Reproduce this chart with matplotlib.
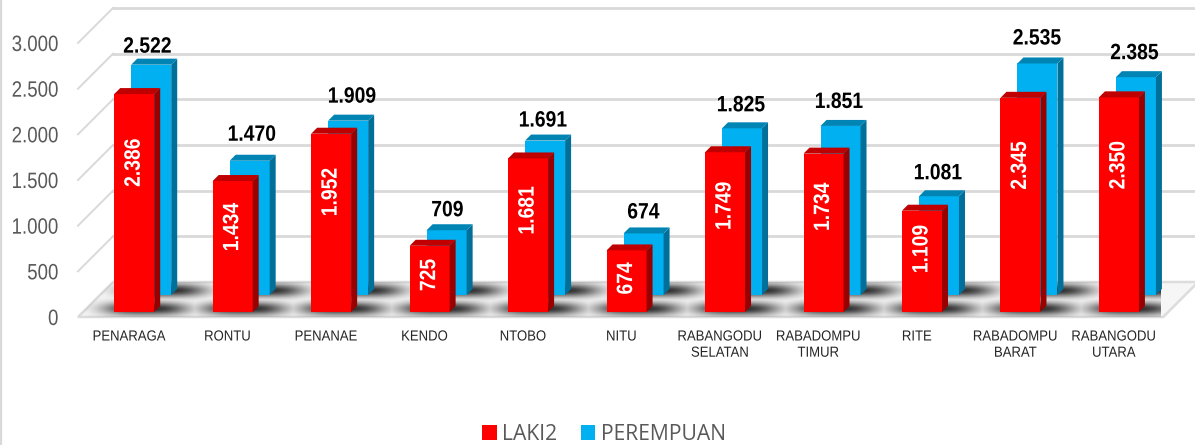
import numpy as np
import matplotlib
matplotlib.use("Agg")
import matplotlib.pyplot as plt
import matplotlib.patheffects as pe
from matplotlib.patches import Polygon, Rectangle, Patch
from matplotlib.lines import Line2D
from matplotlib.transforms import Affine2D

plt.rcParams['font.family'] = ['Liberation Sans']

categories = ['PENARAGA', 'RONTU', 'PENANAE', 'KENDO', 'NTOBO', 'NITU',
              'RABANGODU\nSELATAN', 'RABADOMPU\nTIMUR', 'RITE',
              'RABADOMPU\nBARAT', 'RABANGODU\nUTARA']
laki2 = [2386, 1434, 1952, 725, 1681, 674, 1749, 1734, 1109, 2345, 2350]
perempuan = [2522, 1470, 1909, 709, 1691, 674, 1825, 1851, 1081, 2535, 2385]
y_ticks = [0, 500, 1000, 1500, 2000, 2500, 3000]

# small hand nudges for the labels over the blue bars, in pixels
label_gap = [17.5, 25.5, 23.5, 19.5, 19.5, 20.5, 22.5, 23.5, 22.5, 24.5, 23.5]
label_dx = [-3.7, 2.3, 3.9, 0.9, -2.1, -0.1, -1.0, -1.5, -1.0, -0.4, -1.4]

W, H = 1195, 445
fig = plt.figure(figsize=(W / 100, H / 100), dpi=100, facecolor='white')
# front plane of the fake 3d box, in pixels
left, right, top, bottom = 78, 1161.2, 43, 317
ax = fig.add_axes([left / W, 1 - bottom / H, (right - left) / W, (bottom - top) / H])
ax.patch.set_visible(False)

x_lo, x_hi = -0.52, 10.48
px_x = (x_hi - x_lo) / (right - left)
px_y = 3000 / (bottom - top)
floor_depth = 35
bar_w = 40
bar_side = 6


class Squeeze(pe.AbstractPathEffect):
    # the reference text is squashed sideways, no narrow font is installed
    def __init__(self, sx, pivot='center'):
        super().__init__()
        self.sx = sx
        self.pivot = pivot

    def draw_path(self, renderer, gc, tpath, affine, rgbFace=None):
        xs = tpath.vertices[:, 0]
        p = xs.max() if self.pivot == 'right' else (xs.min() + xs.max()) / 2
        t = Affine2D().translate(-p, 0).scale(self.sx, 1).translate(p, 0) + affine
        renderer.draw_path(gc, tpath, t, rgbFace)


def skew(x, y, depth):
    return x + depth * px_x, y + depth * px_y


def fmt(v):
    return f'{v:,}'.replace(',', '.')


def draw_bar(xc, v, depth, front, side, topc, z):
    x0, y0 = skew(xc - bar_w * px_x / 2, 0, depth)
    x1 = x0 + bar_w * px_x
    y1 = y0 + v
    dx, dy = bar_side * px_x, bar_side * px_y
    ax.add_patch(Rectangle((x0, y0), x1 - x0, v, fc=front, ec='none', zorder=z, clip_on=False))
    ax.add_patch(Polygon([(x1, y0), (x1 + dx, y0 + dy), (x1 + dx, y1 + dy), (x1, y1)],
                         fc=side, ec='none', zorder=z, clip_on=False))
    ax.add_patch(Polygon([(x0, y1), (x1, y1), (x1 + dx, y1 + dy), (x0 + dx, y1 + dy)],
                         fc=topc, ec='none', zorder=z, clip_on=False))


# grid on the side wall and back wall
grid_c = '#d9d9d9'
x_end = x_hi + 2 * px_x
for t in y_ticks[1:]:
    bx, by = skew(x_lo, t, floor_depth)
    ex, _ = skew(x_end, t, floor_depth)
    ax.plot([x_lo, bx], [t, by], color=grid_c, lw=1.4, zorder=1, clip_on=False)
    ax.plot([bx, ex], [by, by], color=grid_c, lw=2.0, zorder=1, clip_on=False)

# floor
bx0, by0 = skew(x_lo, 0, floor_depth)
bx1, _ = skew(x_end, 0, floor_depth)
floor = Polygon([(x_lo, 0), (x_end, 0), (bx1, by0), (bx0, by0)], fc='#f6f6f6', ec='#dcdcdc',
                lw=1.8, zorder=2, clip_on=False)
ax.add_patch(floor)

# soft shadows of the bars on the floor
gx = np.linspace(x_lo - 0.1, x_hi + 0.5, 1300)
gy = np.linspace(0, by0, 60)
XX, YY = np.meshgrid(gx, gy)
dark = np.zeros_like(XX)
for i in range(len(categories)):
    for row in (8, 26):
        cx, cy = skew(i + 8 * px_x, 0, row)
        blob = np.exp(-(np.abs(XX - cx) / (42 * px_x)) ** 3) * np.exp(-((YY - cy) / (6.5 * px_y)) ** 2)
        dark = np.maximum(dark, blob)
rgba = np.zeros(XX.shape + (4,))
rgba[..., 3] = dark * 0.82
im = ax.imshow(rgba, extent=(gx[0], gx[-1], gy[0], gy[-1]), origin='lower', aspect='auto',
               interpolation='bilinear', zorder=3)
im.set_clip_path(floor)
ax.set_xlim(x_lo, x_hi)
ax.set_ylim(0, 3000)

red_depth, blue_depth = 5, 22
for i, v in enumerate(perempuan):
    draw_bar(i, v, blue_depth, '#00b0f0', '#006f9a', '#0084b4', 4)
for i, v in enumerate(laki2):
    draw_bar(i, v, red_depth, '#ff0000', '#990000', '#c00000', 6)

# value labels
for i, v in enumerate(perempuan):
    lx, ly = skew(i + label_dx[i] * px_x, v + label_gap[i] * px_y, blue_depth)
    ax.text(lx, ly, fmt(v), ha='center', va='center', fontsize=16, fontweight='bold', color='black',
            zorder=8, clip_on=False, path_effects=[Squeeze(0.87)])
for i, v in enumerate(laki2):
    lx, _ = skew(i, 0, red_depth)
    ax.text(lx, 0.74 * v - 130 + red_depth * px_y, fmt(v), ha='center', va='center', rotation=90,
            fontsize=16, fontweight='bold', color='white', zorder=8, clip_on=False,
            path_effects=[Squeeze(0.87)])

ax.set_yticks(y_ticks)
ax.set_yticklabels([fmt(t) for t in y_ticks], fontsize=16, color='#595959')
ax.set_xticks(range(len(categories)))
ax.set_xticklabels(categories, fontsize=10.5, color='#262626', linespacing=1.2)
ax.tick_params(axis='y', length=0, pad=14)
ax.tick_params(axis='x', length=0, pad=9)
for lab in ax.get_yticklabels():
    lab.set_path_effects([Squeeze(0.84, 'right')])
for lab in ax.get_xticklabels():
    lab.set_path_effects([Squeeze(0.9)])
for s in ax.spines.values():
    s.set_visible(False)

handles = [Patch(fc='#ff0000', ec='none', label='LAKI2'), Patch(fc='#00b0f0', ec='none', label='PEREMPUAN')]
fig.legend(handles=handles, ncol=2, loc='center', bbox_to_anchor=(604 / W, 1 - 434 / H), frameon=False,
           prop={'family': 'Open Sans', 'size': 15.2}, labelcolor='#595959', handlelength=0.7,
           handleheight=0.7, handletextpad=0.25, columnspacing=1.1, borderpad=0)

fig.add_artist(Line2D([1 / W, 1 / W], [0, 1], color='#d9d9d9', lw=1.6))

fig.savefig('out.png', dpi=100)
